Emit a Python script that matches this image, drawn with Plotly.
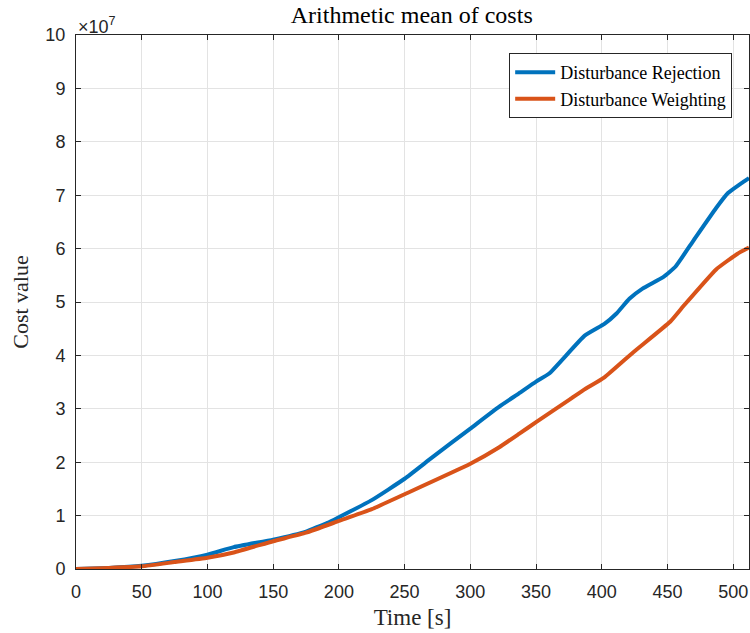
import numpy as np
import plotly.graph_objects as go

# Time [s]
time_rej = [0, 25, 50, 75, 100, 120, 150, 175, 185, 192, 200, 225, 250, 271, 300, 322, 337, 350, 360,
            387, 402, 411, 421, 431, 447, 456, 470, 487, 496, 506, 512]
# Disturbance Rejection (x1e7)
cost_rej = [0.0, 0.02, 0.06, 0.15, 0.27, 0.41, 0.55, 0.70, 0.80, 0.87, 0.97, 1.29, 1.69, 2.09, 2.63, 3.04, 3.29, 3.51, 3.66,
            4.37, 4.59, 4.78, 5.06, 5.25, 5.47, 5.66, 6.16, 6.76, 7.04, 7.22, 7.32]

time_wgt = [0, 25, 50, 75, 100, 120, 150, 175, 200, 225, 250, 300, 322, 337, 350, 376, 386,
            402, 424, 452, 462, 487, 503, 512]
# Disturbance Weighting (x1e7)
cost_wgt = [0.0, 0.02, 0.05, 0.13, 0.21, 0.31, 0.52, 0.68, 0.9, 1.12, 1.4, 1.97, 2.28, 2.53, 2.75, 3.18, 3.35,
            3.59, 4.06, 4.63, 4.92, 5.61, 5.9, 6.02]

SCALE = 1e7
x_ticks = [0, 50, 100, 150, 200, 250, 300, 350, 400, 450, 500]
y_ticks = [0, 1, 2, 3, 4, 5, 6, 7, 8, 9, 10]

BLUE = "#0072BD"
ORANGE = "#D95319"
SERIF = "Liberation Serif, DejaVu Serif, serif"
SANS = "Liberation Sans, Arial, sans-serif"

fig = go.Figure()
fig.add_trace(go.Scatter(x=time_rej, y=np.array(cost_rej) * SCALE, mode="lines",
                         name="Disturbance Rejection", line=dict(color=BLUE, width=4, shape="spline", smoothing=0.4)))
fig.add_trace(go.Scatter(x=time_wgt, y=np.array(cost_wgt) * SCALE, mode="lines",
                         name="Disturbance Weighting", line=dict(color=ORANGE, width=4, shape="spline", smoothing=0.4)))

axis_common = dict(showline=True, linecolor="#262626", linewidth=1, mirror="ticks",
                   ticks="inside", ticklen=5, tickcolor="#262626",
                   showgrid=True, gridcolor="#e3e3e3", gridwidth=1, zeroline=False,
                   tickfont=dict(family=SANS, size=18, color="#262626"))

fig.update_xaxes(range=[0, 512], tickvals=x_ticks, ticktext=[str(v) for v in x_ticks],
                 ticklabelstandoff=6,
                 title=dict(text="Time [s]", font=dict(family=SERIF, size=23, color="#262626"), standoff=8),
                 **axis_common)
fig.update_yaxes(range=[0, 10 * SCALE], tickvals=[v * SCALE for v in y_ticks],
                 ticktext=[str(v) for v in y_ticks], ticklabelstandoff=6,
                 title=dict(text="Cost value", font=dict(family=SERIF, size=22, color="#262626"), standoff=10),
                 **axis_common)

fig.add_annotation(text="×10<sup>7</sup>", xref="paper", yref="paper", x=0.0, y=1.0,
                   xanchor="left", yanchor="bottom", showarrow=False, yshift=-4,
                   font=dict(family=SANS, size=18, color="#262626"))

fig.update_layout(
    width=750, height=633,
    margin=dict(l=76, r=1, t=35, b=64),
    paper_bgcolor="white", plot_bgcolor="white",
    title=dict(text="Arithmetic mean of costs", x=0.549, xanchor="center", y=1 - 15 / 633, yanchor="middle",
               yref="container", font=dict(family=SERIF, size=24, color="#000000")),
    legend=dict(x=0.975, y=0.966, xanchor="right", yanchor="top",
                bgcolor="white", bordercolor="#262626", borderwidth=1,
                font=dict(family=SERIF, size=18, color="#000000"),
                tracegroupgap=0, itemwidth=40),
    showlegend=True,
)

fig.write_html("out.html")
